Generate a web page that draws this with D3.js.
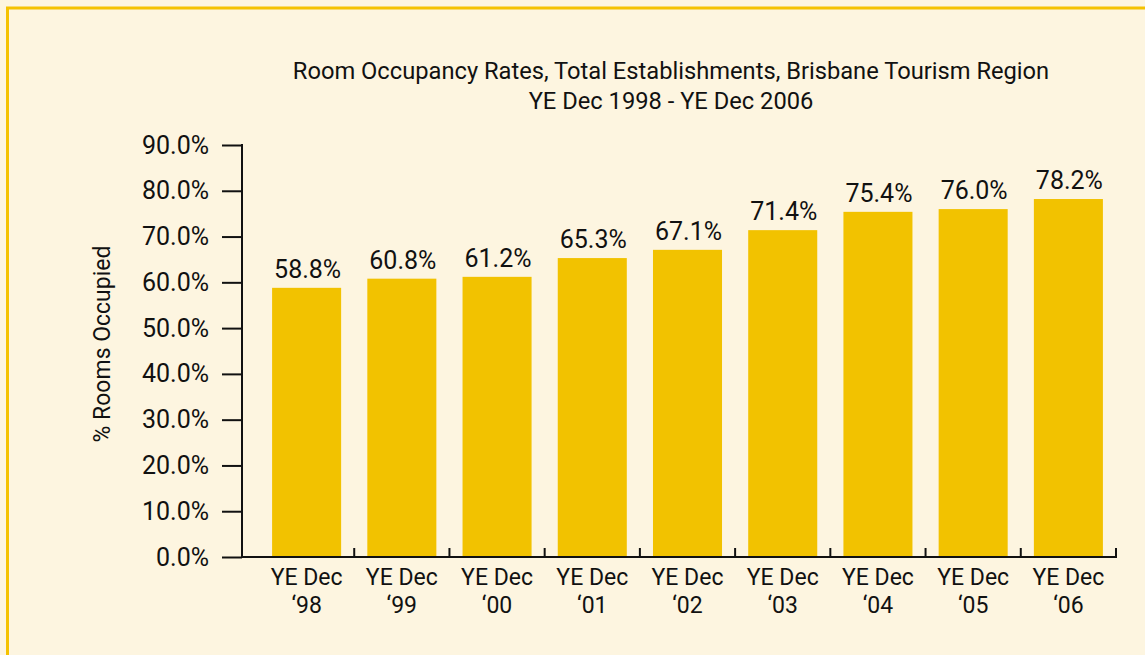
<!DOCTYPE html>
<html>
<head>
<meta charset="utf-8">
<script src="https://cdn.jsdelivr.net/npm/d3@7"></script>
<style>
  body { margin: 0; background: #fdf5e0; }
  text { font-family: "Roboto", sans-serif; fill: #111; }
</style>
</head>
<body>
<script>
// chart data
var years = ["98", "99", "00", "01", "02", "03", "04", "05", "06"];
var occupancy = [58.8, 60.8, 61.2, 65.3, 67.1, 71.4, 75.4, 76.0, 78.2];
var yTicks = [0, 10, 20, 30, 40, 50, 60, 70, 80, 90];
var titleLines = ["Room Occupancy Rates, Total Establishments, Brisbane Tourism Region",
                  "YE Dec 1998 - YE Dec 2006"];

var svgWidth = 1145;
var svgHeight = 655;

var svg = d3.select("body")
    .append("svg")
    .attr("width", svgWidth)
    .attr("height", svgHeight);

// background + yellow frame
svg.append("rect")
    .attr("width", svgWidth)
    .attr("height", svgHeight)
    .style("fill", "#fdf5e0");
svg.append("rect")
    .attr("x", 7.5).attr("y", 8)
    .attr("width", svgWidth + 20).attr("height", svgHeight + 20)
    .style("fill", "none")
    .style("stroke", "#f5c200")
    .style("stroke-width", 3);

var axisX = 242, plotBottom = 557, plotTop = 145;

var y = d3.scaleLinear().domain([0, 90]).range([plotBottom, plotTop]);

var x = d3.scaleBand()
    .domain(years)
    .range([259, 1116])
    .paddingInner(0.275)
    .paddingOuter(0.1375);

// title
svg.append("g").selectAll("text")
    .data(titleLines)
    .enter()
    .append("text")
    .attr("x", 671)
    .attr("y", function(d, i) { return 79 + i * 30; })
    .attr("text-anchor", "middle")
    .style("font-size", "23.7px")
    .text(function(d) { return d; });

// bars
svg.append("g").selectAll("rect")
    .data(occupancy)
    .enter()
    .append("rect")
    .attr("x", function(d, i) { return x(years[i]); })
    .attr("y", function(d) { return y(d); })
    .attr("width", x.bandwidth())
    .attr("height", function(d) { return plotBottom - y(d); })
    .style("fill", "#f2c200");

// value labels
svg.append("g").selectAll("text")
    .data(occupancy)
    .enter()
    .append("text")
    .attr("x", function(d, i) { return x(years[i]) + x.bandwidth() / 2 + 1; })
    .attr("y", function(d) { return y(d) - 10; })
    .attr("text-anchor", "middle")
    .style("font-size", "25px")
    .text(function(d) { return d.toFixed(1) + "%"; });

// y axis
var yAxis = svg.append("g")
    .attr("transform", "translate(" + axisX + ",0)")
    .call(d3.axisLeft(y)
        .tickValues(yTicks)
        .tickSize(20)
        .tickPadding(13)
        .tickFormat(function(d) { return d.toFixed(1) + "%"; }));
yAxis.select(".domain").remove();
yAxis.append("line")
    .attr("y1", plotTop - 1).attr("y2", plotBottom)
    .style("stroke", "#111").style("stroke-width", 2);
yAxis.selectAll(".tick line").style("stroke", "#111").style("stroke-width", 2);
yAxis.selectAll(".tick text")
    .style("font-size", "25px")
    .style("font-family", "Roboto, sans-serif")
    .style("fill", "#111");

// x axis line and category boundary ticks
var step = x.step();
svg.append("line")
    .attr("x1", axisX - 1).attr("x2", 1117)
    .attr("y1", plotBottom).attr("y2", plotBottom)
    .style("stroke", "#111").style("stroke-width", 2);
svg.append("g").selectAll("line")
    .data(years)
    .enter()
    .append("line")
    .attr("x1", function(d) { return x(d) + x.bandwidth() / 2 + step / 2; })
    .attr("x2", function(d) { return x(d) + x.bandwidth() / 2 + step / 2; })
    .attr("y1", plotBottom).attr("y2", plotBottom - 9)
    .style("stroke", "#111").style("stroke-width", 2);

// category labels
var cat = svg.append("g").selectAll("text")
    .data(years)
    .enter()
    .append("text")
    .attr("text-anchor", "middle")
    .style("font-size", "23px");
cat.append("tspan")
    .attr("x", function(d) { return x(d) + x.bandwidth() / 2; })
    .attr("y", 585)
    .text("YE Dec");
cat.append("tspan")
    .attr("x", function(d) { return x(d) + x.bandwidth() / 2; })
    .attr("y", 613)
    .text(function(d) { return "\u2018" + d; });

// y axis title
svg.append("text")
    .attr("transform", "translate(110,344) rotate(-90)")
    .attr("text-anchor", "middle")
    .style("font-size", "23px")
    .text("% Rooms Occupied");
</script>
</body>
</html>
